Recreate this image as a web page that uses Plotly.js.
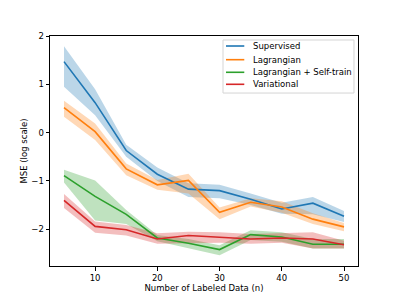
<!DOCTYPE html>
<html><head><meta charset="utf-8">
<script src="https://cdn.plot.ly/plotly-3.0.1.min.js"></script>
<style>html,body{margin:0;padding:0;background:#fff}#chart{width:399px;height:299px}</style>
</head><body><div id="chart"></div>
<script>
const nLabeled = [5, 10, 15, 20, 25, 30, 35, 40, 45, 50];
const seriesNames = ["Supervised", "Lagrangian", "Lagrangian + Self-train", "Variational"];

const supervisedMean  = [1.47, 0.62, -0.37, -0.86, -1.17, -1.20, -1.38, -1.58, -1.46, -1.73];
const supervisedLower = [0.95, 0.36, -0.50, -1.00, -1.33, -1.36, -1.50, -1.68, -1.69, -1.85];
const supervisedUpper = [1.79, 0.90, -0.25, -0.72, -1.05, -1.08, -1.26, -1.45, -1.33, -1.62];

const lagrangianMean  = [0.52, 0.02, -0.75, -1.08, -0.99, -1.65, -1.44, -1.54, -1.79, -1.95];
const lagrangianLower = [0.33, -0.15, -0.88, -1.18, -1.26, -1.79, -1.53, -1.66, -1.89, -2.04];
const lagrangianUpper = [0.66, 0.19, -0.64, -0.98, -0.85, -1.55, -1.36, -1.42, -1.67, -1.87];

const selfTrainMean  = [-0.89, -1.32, -1.69, -2.18, -2.29, -2.42, -2.11, -2.16, -2.31, -2.31];
const selfTrainLower = [-1.03, -1.82, -1.89, -2.25, -2.40, -2.54, -2.22, -2.26, -2.40, -2.40];
const selfTrainUpper = [-0.77, -0.99, -1.60, -2.12, -2.20, -2.33, -2.02, -2.06, -2.20, -2.20];

const variationalMean  = [-1.40, -1.94, -2.01, -2.20, -2.13, -2.16, -2.20, -2.18, -2.20, -2.32];
const variationalLower = [-1.56, -2.07, -2.13, -2.30, -2.29, -2.28, -2.30, -2.28, -2.40, -2.40];
const variationalUpper = [-1.27, -1.84, -1.91, -2.08, -2.05, -2.06, -2.10, -2.08, -2.06, -2.24];

const xTicks = [10, 20, 30, 40, 50];
const yTicks = [-2, -1, 0, 1, 2];

const colors = ["#1f77b4", "#ff7f0e", "#2ca02c", "#d62728"];
const fills = ["rgba(31,119,180,0.3)", "rgba(255,127,14,0.3)", "rgba(44,160,44,0.3)", "rgba(214,39,40,0.3)"];
const means = [supervisedMean, lagrangianMean, selfTrainMean, variationalMean];
const lowers = [supervisedLower, lagrangianLower, selfTrainLower, variationalLower];
const uppers = [supervisedUpper, lagrangianUpper, selfTrainUpper, variationalUpper];

const traces = [];
for (let i = 0; i < 4; i++) {
  traces.push({
    x: nLabeled.concat(nLabeled.slice().reverse()),
    y: uppers[i].concat(lowers[i].slice().reverse()),
    type: "scatter", mode: "lines", fill: "toself",
    fillcolor: fills[i], line: {width: 0, color: "rgba(0,0,0,0)"},
    showlegend: false, hoverinfo: "skip"
  });
}
for (let i = 0; i < 4; i++) {
  traces.push({
    x: nLabeled, y: means[i], type: "scatter", mode: "lines",
    name: seriesNames[i], line: {color: colors[i], width: 1.6}, showlegend: false
  });
}

const FS = 8.5;
const font = {family: "DejaVu Sans", size: FS, color: "#000"};

// Compact matplotlib-style legend (box, line samples, labels) in paper coords
const legendBox = {x0: 0.5617, x1: 0.987, y0: 0.752, y1: 0.9826};
const legendRows = [0.9565, 0.897, 0.8422, 0.79];
const shapes = [{
  type: "rect", xref: "paper", yref: "paper",
  x0: legendBox.x0, x1: legendBox.x1, y0: legendBox.y0, y1: legendBox.y1,
  line: {color: "#d5d5d5", width: 1}, fillcolor: "rgba(255,255,255,0.8)", layer: "above"
}];
const annotations = [];
seriesNames.forEach((nm, i) => {
  shapes.push({type: "line", xref: "paper", yref: "paper",
    x0: 0.5714, x1: 0.6308, y0: legendRows[i], y1: legendRows[i],
    line: {color: colors[i], width: 1.6}, layer: "above"});
  annotations.push({xref: "paper", yref: "paper", x: 0.6516, y: legendRows[i],
    xanchor: "left", yanchor: "middle", text: nm, showarrow: false, font: font});
});

const layout = {
  width: 399, height: 299,
  margin: {l: 50, r: 41, t: 36, b: 33, pad: 0},
  paper_bgcolor: "#fff", plot_bgcolor: "#fff",
  font: font,
  showlegend: false,
  shapes: shapes,
  annotations: annotations,
  xaxis: {
    range: [2.75, 52.25], tickvals: xTicks, ticktext: xTicks.map(String),
    showgrid: false, zeroline: false, showline: true, linecolor: "#000", linewidth: 1,
    mirror: true, ticks: "outside", ticklen: 3.5, tickcolor: "#000",
    tickfont: font,
    title: {text: "Number of Labeled Data (n)", font: font, standoff: 3}
  },
  yaxis: {
    range: [-2.76, 2.0], tickvals: yTicks, ticktext: yTicks.map(v => v < 0 ? "\u2212" + Math.abs(v) : String(v)),
    showgrid: false, zeroline: false, showline: true, linecolor: "#000", linewidth: 1,
    mirror: true, ticks: "outside", ticklen: 3.5, tickcolor: "#000",
    tickfont: font,
    title: {text: "MSE (log scale)", font: font, standoff: 2}
  }
};
Plotly.newPlot("chart", traces, layout, {staticPlot: true, displayModeBar: false});
</script></body></html>
